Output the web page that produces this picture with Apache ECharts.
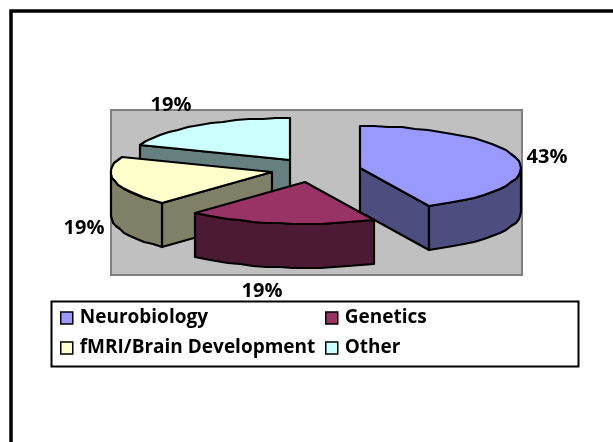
<!DOCTYPE html>
<html>
<head>
<meta charset="utf-8">
<style>
  html, body { margin: 0; padding: 0; background: #fff; }
  #main { width: 613px; height: 442px; }
</style>
<script src="https://cdn.jsdelivr.net/npm/echarts@6/dist/echarts.min.js"></script>
</head>
<body>
<div id="main"></div>
<script>
const categories = ['Neurobiology', 'Genetics', 'fMRI/Brain Development', 'Other']
const shares = [43, 19, 19, 19]

// look of the fake 3d pie
const topColors = ['#9999FF', '#993366', '#FFFFCC', '#CCFFFF']
const sideColors = ['#4D4D80', '#4D1A33', '#808066', '#668080']
const explode = [[44, -2], [-11, 12], [-44, 2], [-26, -10]]
const drawOrder = [2, 5, 4, 3]
const labelAt = [[547, 157], [262, 291], [84, 228], [171, 105]]
const rx = 161
const ry = 42
const depth = 44
const font = '"Open Sans", Lato, sans-serif'

const total = shares.reduce((a, b) => a + b, 0)
let running = 0
const rows = shares.map(v => {
  const row = [v, running]
  running += v
  return row
})

function toAngle(share) {
  return share / total * Math.PI * 2
}

// clockwise from 12 o'clock, rounded to pixels like the old raster did
function arc(cx, cy, a0, a1) {
  const n = Math.max(1, Math.ceil((a1 - a0) / 0.09))
  const pts = []
  for (let i = 0; i <= n; i++) {
    const a = a0 + (a1 - a0) * i / n
    pts.push([Math.round(cx + rx * Math.sin(a)), Math.round(cy - ry * Math.cos(a))])
  }
  return pts
}

function face(points, fill) {
  return {
    type: 'polygon',
    shape: { points: points },
    style: { fill: fill, stroke: '#000', lineWidth: 2.2, lineJoin: 'round' },
    silent: true
  }
}

function wall(p, q) {
  return [p, q, [q[0], q[1] + depth], [p[0], p[1] + depth]]
}

function renderSlice(params, api) {
  const i = params.seriesIndex
  const box = params.coordSys
  const cx = box.x + 205 + explode[i][0]
  const cy = box.y + 60 + explode[i][1]
  const a0 = toAngle(api.value(1))
  const a1 = a0 + toAngle(api.value(0))
  const side = sideColors[i]
  const children = []
  const centre = [cx, cy]
  const rim = arc(cx, cy, a0, a1)

  // cut faces that turn towards the viewer
  if (Math.sin(a0) < -0.01) children.push(face(wall(centre, rim[0]), side))
  if (Math.sin(a1) > 0.01) children.push(face(wall(centre, rim[rim.length - 1]), side))

  // front part of the outer wall
  const f0 = Math.max(a0, Math.PI / 2)
  const f1 = Math.min(a1, Math.PI * 1.5)
  if (f1 > f0) {
    const front = arc(cx, cy, f0, f1)
    const lower = front.map(p => [p[0], p[1] + depth]).reverse()
    children.push(face(front.concat(lower), side))
  }

  children.push(face([centre].concat(rim), topColors[i]))
  children.push({
    type: 'text',
    silent: true,
    style: {
      x: labelAt[i][0],
      y: labelAt[i][1],
      text: api.value(0) + '%',
      fill: '#000',
      font: 'bold 20px ' + font,
      align: 'center',
      verticalAlign: 'middle'
    }
  })
  return { type: 'group', children: children }
}

const legendBase = {
  orient: 'vertical',
  icon: 'rect',
  selectedMode: false,
  itemWidth: 12,
  itemHeight: 12,
  itemGap: 10,
  itemStyle: { borderColor: '#000', borderWidth: 1.5 },
  padding: 0,
  top: 308,
  textStyle: { color: '#000', fontFamily: font, fontWeight: 'bold', fontSize: 19, lineHeight: 20, padding: [0, 0, 0, 2] }
}

const chart = echarts.init(document.getElementById('main'), null, { renderer: 'canvas' })
chart.setOption({
  animation: false,
  backgroundColor: '#fff',
  grid: {
    left: 111, top: 110, width: 411, height: 165,
    show: true,
    backgroundColor: '#C0C0C0',
    borderColor: '#808080',
    borderWidth: 2
  },
  xAxis: { type: 'value', show: false, min: 0, max: 100 },
  yAxis: { type: 'value', show: false, min: 0, max: 100 },
  legend: [
    Object.assign({}, legendBase, { left: 60, data: [categories[0], categories[2]] }),
    Object.assign({}, legendBase, { left: 325, data: [categories[1], categories[3]] })
  ],
  graphic: [
    {
      type: 'polyline',
      silent: true,
      shape: { points: [[11, 442], [11, 11], [613, 11]] },
      style: { fill: 'none', stroke: '#000', lineWidth: 3.5 }
    },
    {
      type: 'rect',
      silent: true,
      z: -1,
      shape: { x: 51.5, y: 301.5, width: 527, height: 65 },
      style: { fill: '#fff', stroke: '#000', lineWidth: 2 }
    }
  ],
  series: categories.map((name, i) => ({
    type: 'custom',
    name: name,
    coordinateSystem: 'cartesian2d',
    clip: false,
    z: drawOrder[i],
    itemStyle: { color: topColors[i] },
    encode: { x: 0, y: 1 },
    renderItem: renderSlice,
    data: [rows[i]]
  }))
})
</script>
</body>
</html>
